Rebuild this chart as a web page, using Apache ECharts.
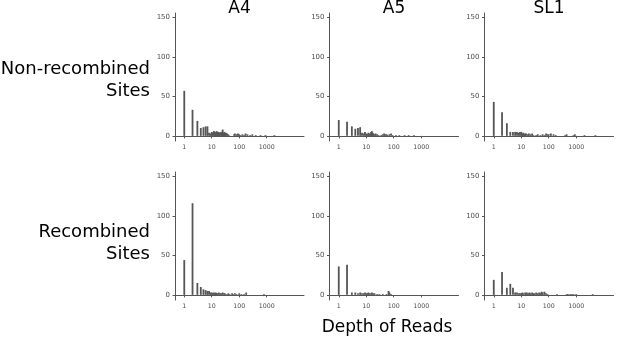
<!DOCTYPE html>
<html>
<head>
<meta charset="utf-8">
<script src="https://cdn.jsdelivr.net/npm/echarts@6/dist/echarts.min.js"></script>
<style>
  html, body { margin: 0; padding: 0; background: #fff; }
  #chart { width: 617px; height: 339px; }
</style>
</head>
<body>
<div id="chart"></div>
<script>
// column / row facets
const samples = ['A4', 'A5', 'SL1'];
const siteTypes = ['Non-recombined\nSites', 'Recombined\nSites'];
const xTicks = [1, 10, 100, 1000];
const yTicks = [0, 50, 100, 150];

// [depth of reads, number of sites]
const a4NonRecombined = [[1,57],[2,33],[3,19],[4,10],[5,11],[6,12],[7,12],[8,4],[9,3],[10,5],[11,4],[12,6],[13,5],[14,4],[15,6],[16,5],[17,4],[18,5],[19,3],[20,4],[22,5],[24,3],[25,8],[27,4],[29,5],[31,3],[33,4],[36,3],[39,2],[42,1],[65,2],[70,3],[80,2],[90,3],[100,2],[110,1],[130,2],[150,1],[170,3],[200,2],[250,1],[300,2],[400,1],[600,1],[900,1],[1900,1]];
const a5NonRecombined = [[1,20],[2,18],[3,12],[4,9],[5,10],[6,11],[7,4],[8,3],[9,5],[10,3],[11,2],[12,4],[13,3],[14,2],[15,5],[16,6],[17,4],[18,3],[20,2],[22,3],[25,2],[28,1],[35,1],[40,2],[45,3],[50,2],[55,2],[60,1],[70,2],[80,3],[90,1],[120,1],[160,1],[250,1],[350,1],[550,1]];
const sl1NonRecombined = [[1,43],[2,30],[3,16],[4,5],[5,5],[6,5],[7,5],[8,4],[9,5],[10,5],[11,3],[12,4],[13,2],[14,3],[15,3],[17,2],[19,3],[22,2],[25,3],[28,1],[35,1],[40,2],[50,1],[60,2],[70,1],[80,3],[90,2],[100,2],[120,3],[150,2],[180,1],[400,1],[450,2],[800,1],[900,2],[2000,1],[5000,1]];
const a4Recombined = [[1,44],[2,116],[3,15],[4,10],[5,7],[6,6],[7,5],[8,5],[9,3],[10,3],[11,2],[12,3],[13,2],[14,3],[15,2],[16,2],[18,3],[20,2],[22,2],[25,3],[28,2],[30,2],[35,1],[40,2],[45,1],[55,2],[60,1],[70,2],[80,1],[100,2],[120,1],[150,1],[180,3],[800,1]];
const a5Recombined = [[1,36],[2,38],[3,3],[4,3],[5,2],[6,3],[7,2],[8,2],[9,3],[10,2],[11,2],[12,3],[13,2],[15,2],[16,3],[18,2],[20,2],[25,1],[30,1],[40,1],[55,1],[65,5],[70,3],[80,1]];
const sl1Recombined = [[1,19],[2,29],[3,9],[4,14],[5,9],[6,3],[7,3],[8,2],[9,2],[10,2],[11,3],[12,2],[14,3],[15,2],[16,3],[18,2],[20,3],[22,2],[25,3],[28,2],[30,2],[35,3],[40,2],[45,3],[50,2],[55,4],[60,3],[70,4],[80,2],[90,1],[200,1],[450,1],[500,1],[600,1],[700,1],[800,1],[1000,1],[4000,1]];

const panelData = [a4NonRecombined, a5NonRecombined, sl1NonRecombined,
                   a4Recombined, a5Recombined, sl1Recombined];

const colLeft = [175, 329.5, 484.5];
const rowTop = [13, 172];
const font = '"DejaVu Sans", sans-serif';

let grids = [], xAxes = [], yAxes = [], series = [];
for (let r = 0; r < 2; r++) {
    for (let c = 0; c < 3; c++) {
        let i = r * 3 + c;
        grids.push({ left: colLeft[c], top: rowTop[r], width: 129, height: 128 });
        xAxes.push({
            type: 'log',
            gridIndex: i,
            logBase: 10,
            min: 0.46,
            max: 22900,
            splitLine: { show: false },
            axisLine: { lineStyle: { color: '#555', width: 1 } },
            axisTick: { customValues: xTicks, length: 2.5, lineStyle: { color: '#555' } },
            axisLabel: {
                customValues: xTicks,
                color: '#4d4d4d', fontSize: 6.3, fontFamily: font, margin: 3.5,
                formatter: v => String(Math.round(v))
            }
        });
        yAxes.push({
            type: 'value',
            gridIndex: i,
            min: -6.5,
            max: 155.5,
            splitLine: { show: false },
            axisLine: { show: true, lineStyle: { color: '#555', width: 1 } },
            axisTick: { show: true, customValues: yTicks, length: 2.5, lineStyle: { color: '#555' } },
            axisLabel: { customValues: yTicks, color: '#4d4d4d', fontSize: 7, fontFamily: font, margin: 5 }
        });
        series.push({
            type: 'bar',
            xAxisIndex: i,
            yAxisIndex: i,
            barWidth: 1.8,
            itemStyle: { color: '#555' },
            data: panelData[i]
        });
    }
}

let texts = [];
samples.forEach((s, c) => {
    texts.push({
        type: 'text',
        style: { text: s, x: colLeft[c] + 64.5, y: 9, align: 'center', verticalAlign: 'middle',
                 font: '17px ' + font, fill: '#000' }
    });
});
[80, 243].forEach((y, r) => {
    texts.push({
        type: 'text',
        style: { text: siteTypes[r], x: 150, y: y, align: 'right', verticalAlign: 'middle',
                 font: '18px ' + font, fill: '#000', lineHeight: 22 }
    });
});
texts.push({
    type: 'text',
    style: { text: 'Depth of Reads', x: 387, y: 328, align: 'center', verticalAlign: 'middle',
             font: '17px ' + font, fill: '#000' }
});

let myChart = echarts.init(document.getElementById('chart'));
myChart.setOption({
    animation: false,
    grid: grids,
    xAxis: xAxes,
    yAxis: yAxes,
    series: series,
    graphic: texts
});
</script>
</body>
</html>
